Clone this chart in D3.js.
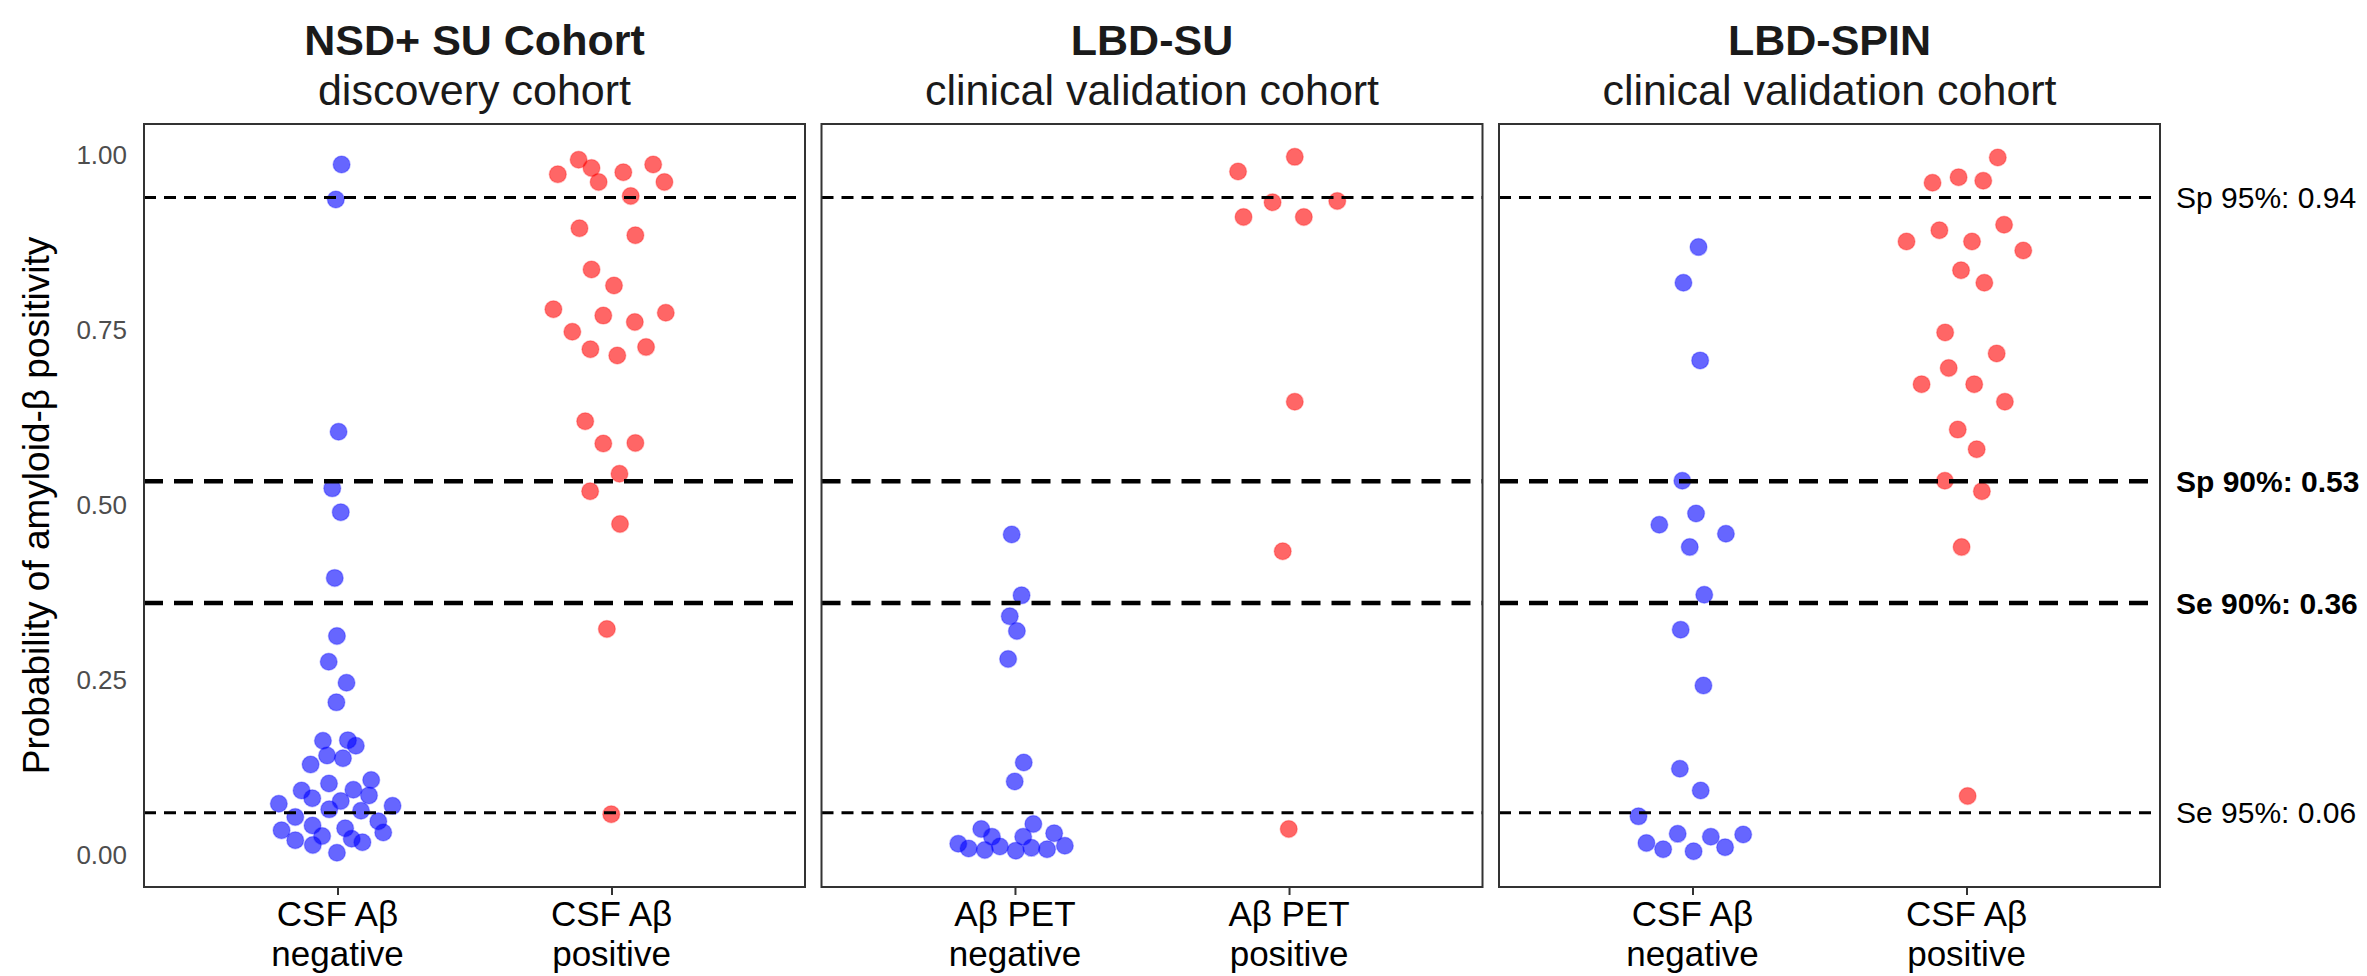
<!DOCTYPE html>
<html>
<head>
<meta charset="utf-8">
<script src="https://cdn.jsdelivr.net/npm/d3@7"></script>
<style>
  body { margin: 0; background: #fff; }
  svg { display: block; font-family: "Liberation Sans", Arial, sans-serif; }
</style>
</head>
<body>
<div id="chart"></div>
<script>
// cohort titles
const cohortTitles = ["NSD+ SU Cohort", "LBD-SU", "LBD-SPIN"];
const cohortSubtitles = ["discovery cohort", "clinical validation cohort", "clinical validation cohort"];
const groupLabels = [["CSF Aβ", "CSF Aβ"], ["Aβ PET", "Aβ PET"], ["CSF Aβ", "CSF Aβ"]];
const groupStatus = ["negative", "positive"];

// cut-off lines
const cutoffValues = [0.94, 0.534, 0.36, 0.06];
const cutoffLabels = ["Sp 95%: 0.94", "Sp 90%: 0.53", "Se 90%: 0.36", "Se 95%: 0.06"];
const cutoffBold = [false, true, true, false];

const yTicks = [0, 0.25, 0.5, 0.75, 1];

// points: [jittered group position, probability]
const nsdNegative = [[1.015,0.987],[0.994,0.937],[1.004,0.605],[0.981,0.524],[1.012,0.490],[0.990,0.396],[0.998,0.313],[0.968,0.276],[1.033,0.246],[0.996,0.218],[0.947,0.163],[1.038,0.164],[1.067,0.156],[0.962,0.142],[1.020,0.138],[0.902,0.129],[0.969,0.102],[1.123,0.107],[0.869,0.092],[0.908,0.081],[1.058,0.093],[1.115,0.085],[1.012,0.077],[0.786,0.073],[0.970,0.065],[1.086,0.063],[1.201,0.070],[0.846,0.054],[1.149,0.048],[0.796,0.035],[0.909,0.042],[1.028,0.038],[1.167,0.032],[0.944,0.027],[1.052,0.023],[0.846,0.021],[0.910,0.014],[1.091,0.018],[0.998,0.003]];
const nsdPositive = [[1.880,0.994],[1.927,0.982],[1.804,0.973],[2.043,0.976],[2.152,0.987],[1.953,0.962],[2.193,0.962],[2.070,0.942],[1.883,0.896],[2.087,0.886],[1.927,0.837],[2.009,0.814],[1.788,0.780],[1.970,0.771],[2.198,0.775],[2.085,0.762],[1.857,0.748],[1.923,0.723],[2.021,0.714],[2.126,0.726],[1.904,0.620],[1.970,0.588],[2.087,0.589],[2.029,0.545],[1.922,0.520],[2.031,0.473],[1.983,0.323],[1.999,0.058]];
const lbdSuNegative = [[0.988,0.458],[1.024,0.371],[0.981,0.341],[1.007,0.320],[0.975,0.280],[1.032,0.132],[0.999,0.105],[1.067,0.044],[0.877,0.037],[1.143,0.031],[0.916,0.026],[1.030,0.026],[0.793,0.016],[0.831,0.009],[0.890,0.007],[0.945,0.012],[1.003,0.006],[1.060,0.010],[1.117,0.008],[1.182,0.013]];
const lbdSuPositive = [[2.021,0.998],[1.814,0.977],[1.940,0.933],[2.176,0.935],[1.834,0.912],[2.054,0.912],[2.021,0.648],[1.977,0.434],[1.999,0.037]];
const lbdSpinNegative = [[1.022,0.869],[0.967,0.818],[1.028,0.707],[0.963,0.535],[1.013,0.488],[0.879,0.472],[1.122,0.459],[0.990,0.440],[1.043,0.372],[0.957,0.322],[1.040,0.242],[0.954,0.123],[1.030,0.092],[0.803,0.055],[0.946,0.030],[1.067,0.026],[1.185,0.029],[0.832,0.017],[0.893,0.008],[1.004,0.005],[1.119,0.011]];
const lbdSpinPositive = [[2.114,0.997],[1.876,0.961],[1.971,0.969],[2.061,0.964],[2.137,0.901],[1.901,0.893],[1.781,0.877],[2.020,0.877],[2.207,0.864],[1.980,0.836],[2.065,0.818],[1.922,0.747],[2.110,0.717],[1.935,0.696],[1.836,0.673],[2.028,0.673],[2.140,0.648],[1.968,0.608],[2.037,0.580],[1.921,0.535],[2.056,0.520],[1.982,0.440],[2.004,0.084]];

const negatives = [nsdNegative, lbdSuNegative, lbdSpinNegative];
const positives = [nsdPositive, lbdSuPositive, lbdSpinPositive];

const width = 2367;
const height = 976;
const panelTop = 124;
const panelBottom = 887;
const panelLeft = 144;
const panelWidth = 661;
const panelGap = 16.5;

const svg = d3
  .select("#chart")
  .append("svg")
  .attr("width", width)
  .attr("height", height);

const yScale = d3
  .scaleLinear()
  .domain([-0.046, 1.045])
  .range([panelBottom, panelTop]);

const fontTitle = 43;

cohortTitles.forEach((title, i) => {
  const left = panelLeft + i * (panelWidth + panelGap);
  const xScale = d3
    .scaleLinear()
    .domain([0.294, 2.706])
    .range([left, left + panelWidth]);

  const g = svg.append("g");

  // titles
  g.append("text")
    .attr("x", left + panelWidth / 2)
    .attr("y", 55)
    .attr("text-anchor", "middle")
    .style("font-size", fontTitle + "px")
    .style("font-weight", "bold")
    .attr("fill", "#1a1a1a")
    .text(title);
  g.append("text")
    .attr("x", left + panelWidth / 2)
    .attr("y", 105)
    .attr("text-anchor", "middle")
    .style("font-size", fontTitle + "px")
    .attr("fill", "#1a1a1a")
    .text(cohortSubtitles[i]);

  // points
  g.selectAll(".neg")
    .data(negatives[i])
    .enter()
    .append("circle")
    .attr("cx", (d) => xScale(d[0]))
    .attr("cy", (d) => yScale(d[1]))
    .attr("r", 8.5)
    .attr("fill", "#0000ff")
    .attr("fill-opacity", 0.6)
    .attr("stroke", "#0000ff")
    .attr("stroke-opacity", 0.25)
    .attr("stroke-width", 1.5);

  g.selectAll(".pos")
    .data(positives[i])
    .enter()
    .append("circle")
    .attr("cx", (d) => xScale(d[0]))
    .attr("cy", (d) => yScale(d[1]))
    .attr("r", 8.5)
    .attr("fill", "#ff0000")
    .attr("fill-opacity", 0.6)
    .attr("stroke", "#ff0000")
    .attr("stroke-opacity", 0.25)
    .attr("stroke-width", 1.5);

  // cut-off lines
  g.selectAll(".cut")
    .data(cutoffValues)
    .enter()
    .append("line")
    .attr("x1", left)
    .attr("x2", left + panelWidth)
    .attr("y1", (d) => yScale(d))
    .attr("y2", (d) => yScale(d))
    .attr("stroke", "#000")
    .attr("stroke-width", (d, j) => (cutoffBold[j] ? 4.5 : 3))
    .attr("stroke-dasharray", (d, j) => (cutoffBold[j] ? "19,11" : "12,8"));

  // panel border
  g.append("rect")
    .attr("x", left)
    .attr("y", panelTop)
    .attr("width", panelWidth)
    .attr("height", panelBottom - panelTop)
    .attr("fill", "none")
    .attr("stroke", "#333")
    .attr("stroke-width", 2);

  // x axis
  const xAxis = g
    .append("g")
    .attr("transform", `translate(0, ${panelBottom})`)
    .call(d3.axisBottom(xScale).tickValues([1, 2]).tickSize(8).tickFormat(""));
  xAxis.select(".domain").remove();
  xAxis.selectAll("line").attr("stroke", "#333").attr("stroke-width", 2);

  [1, 2].forEach((v, j) => {
    g.append("text")
      .attr("x", xScale(v))
      .attr("y", 926)
      .attr("text-anchor", "middle")
      .style("font-size", "35px")
      .attr("fill", "#000")
      .text(groupLabels[i][j]);
    g.append("text")
      .attr("x", xScale(v))
      .attr("y", 966)
      .attr("text-anchor", "middle")
      .style("font-size", "35px")
      .attr("fill", "#000")
      .text(groupStatus[j]);
  });

  // y axis only on the first panel
  if (i === 0) {
    const yAxis = g
      .append("g")
      .attr("transform", `translate(${left}, 0)`)
      .call(d3.axisLeft(yScale).tickValues(yTicks).tickSize(0).tickPadding(17).tickFormat(d3.format(".2f")));
    yAxis.select(".domain").remove();
    yAxis.selectAll("text")
      .style("font-size", "26px")
      .style("font-family", "'Liberation Sans', Arial, sans-serif")
      .attr("fill", "#4d4d4d");
  }

  // cut-off labels on the right
  if (i === cohortTitles.length - 1) {
    g.selectAll(".cutlabel")
      .data(cutoffValues)
      .enter()
      .append("text")
      .attr("x", left + panelWidth + 16)
      .attr("y", (d) => yScale(d))
      .attr("dy", "0.35em")
      .style("font-size", "30px")
      .style("font-weight", (d, j) => (cutoffBold[j] ? "bold" : "normal"))
      .attr("fill", "#000")
      .text((d, j) => cutoffLabels[j]);
  }
});

// y axis title
svg.append("text")
  .attr("transform", `translate(36, ${(panelTop + panelBottom) / 2}) rotate(-90)`)
  .attr("text-anchor", "middle")
  .attr("dy", "0.35em")
  .style("font-size", "37px")
  .attr("fill", "#000")
  .text("Probability of amyloid-β positivity");
</script>
</body>
</html>
